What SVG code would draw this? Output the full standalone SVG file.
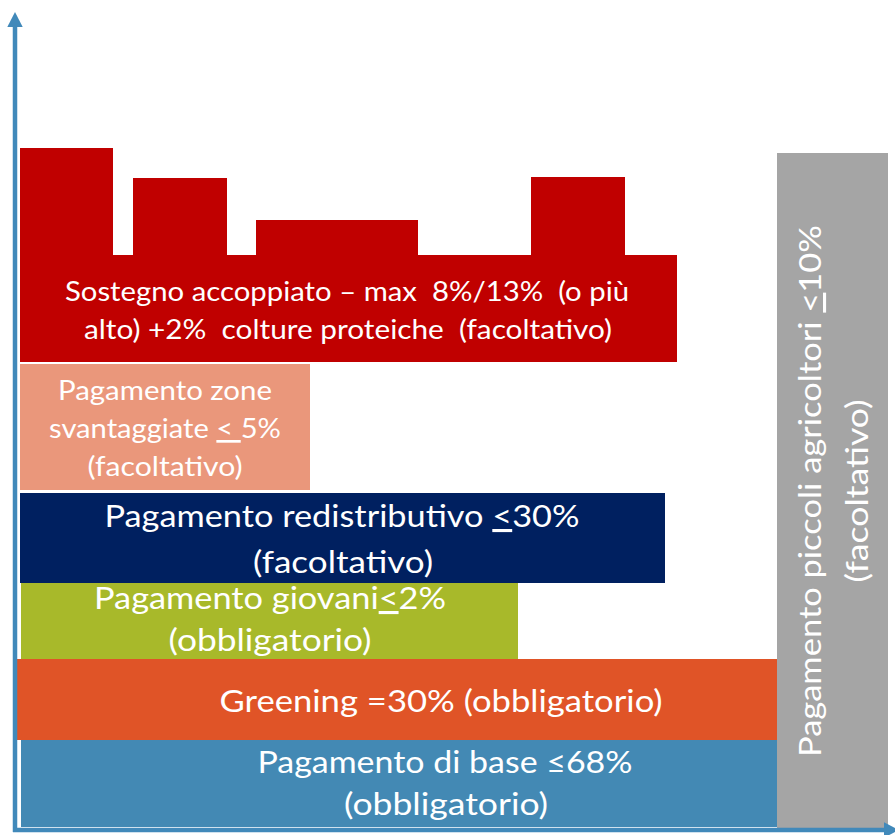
<svg xmlns="http://www.w3.org/2000/svg" width="895" height="835" viewBox="0 0 895 835">
<style>
text{font-family:Lato,"Open Sans","Liberation Sans",sans-serif;fill:#fff;text-anchor:middle}
.s{font-size:27px}
.l{font-size:31px}
.u{text-decoration:underline}
.axis{stroke:#4189BA;stroke-width:4.5;fill:none}
</style>
<defs>
<marker id="arr" markerUnits="userSpaceOnUse" markerWidth="16" markerHeight="16" refX="0" refY="7.7" orient="auto" viewBox="0 0 16 16">
<path d="M0,0 L15,7.7 L0,15.4 Z" fill="#4189BA"/>
</marker>
</defs>
<rect width="895" height="835" fill="#fff"/>
<g id="sostegno-accoppiato">
<path d="M20,148 H113 V255 H133 V178 H227 V255 H256 V220 H418 V255 H531 V177 H625 V255 H677 V362 H20 Z" fill="#C00000"/>
<text class="s" x="347" y="301" textLength="564" lengthAdjust="spacingAndGlyphs" xml:space="preserve">Sostegno accoppiato – max  8%/13%  (o più</text>
<text class="s" x="348" y="339" textLength="528" lengthAdjust="spacingAndGlyphs" xml:space="preserve">alto) +2%  colture proteiche  (facoltativo)</text>
</g>
<g id="zone-svantaggiate">
<rect x="20" y="364" width="290" height="126" fill="#EA977B"/>
<text class="s" x="165" y="400" textLength="214" lengthAdjust="spacingAndGlyphs">Pagamento zone</text>
<text class="s" x="165" y="438" textLength="232" lengthAdjust="spacingAndGlyphs" xml:space="preserve">svantaggiate <tspan class="u">&lt; </tspan>5%</text>
<text class="s" x="165" y="476" textLength="155" lengthAdjust="spacingAndGlyphs">(facoltativo)</text>
</g>
<g id="redistributivo">
<rect x="20" y="493" width="645" height="90" fill="#002060"/>
<text class="l" x="342" y="527" textLength="475" lengthAdjust="spacingAndGlyphs">Pagamento redistributivo <tspan class="u">&lt;</tspan>30%</text>
<text class="l" x="343" y="573" textLength="180" lengthAdjust="spacingAndGlyphs">(facoltativo)</text>
</g>
<g id="giovani">
<rect x="21" y="583" width="497" height="76" fill="#A8B92A"/>
<text class="l" x="270" y="609" textLength="352" lengthAdjust="spacingAndGlyphs">Pagamento giovani<tspan class="u">&lt;</tspan>2%</text>
<text class="l" x="270" y="651" textLength="203" lengthAdjust="spacingAndGlyphs">(obbligatorio)</text>
</g>
<g id="greening">
<rect x="17" y="659" width="760" height="81" fill="#E05427"/>
<text class="l" x="441" y="712" textLength="443" lengthAdjust="spacingAndGlyphs">Greening =30% (obbligatorio)</text>
</g>
<g id="pagamento-base">
<rect x="21" y="740" width="756" height="87" fill="#4389B4"/>
<text class="l" x="445" y="773" textLength="375" lengthAdjust="spacingAndGlyphs">Pagamento di base ≤68%</text>
<text class="l" x="446" y="815" textLength="204" lengthAdjust="spacingAndGlyphs">(obbligatorio)</text>
</g>
<g id="piccoli-agricoltori">
<rect x="777" y="153" width="111" height="677" fill="#A5A5A5"/>
<text class="l" transform="translate(821,491) rotate(-90)" x="0" y="0" textLength="532" lengthAdjust="spacingAndGlyphs">Pagamento piccoli agricoltori <tspan class="u">&lt;</tspan>10%</text>
<text class="l" transform="translate(868,491) rotate(-90)" x="0" y="0" textLength="183" lengthAdjust="spacingAndGlyphs">(facoltativo)</text>
</g>
<g id="connectors">
<line class="axis" x1="15" y1="832" x2="15" y2="27" marker-end="url(#arr)"/>
<line class="axis" x1="13" y1="830" x2="884" y2="830" marker-end="url(#arr)"/>
</g>
</svg>
